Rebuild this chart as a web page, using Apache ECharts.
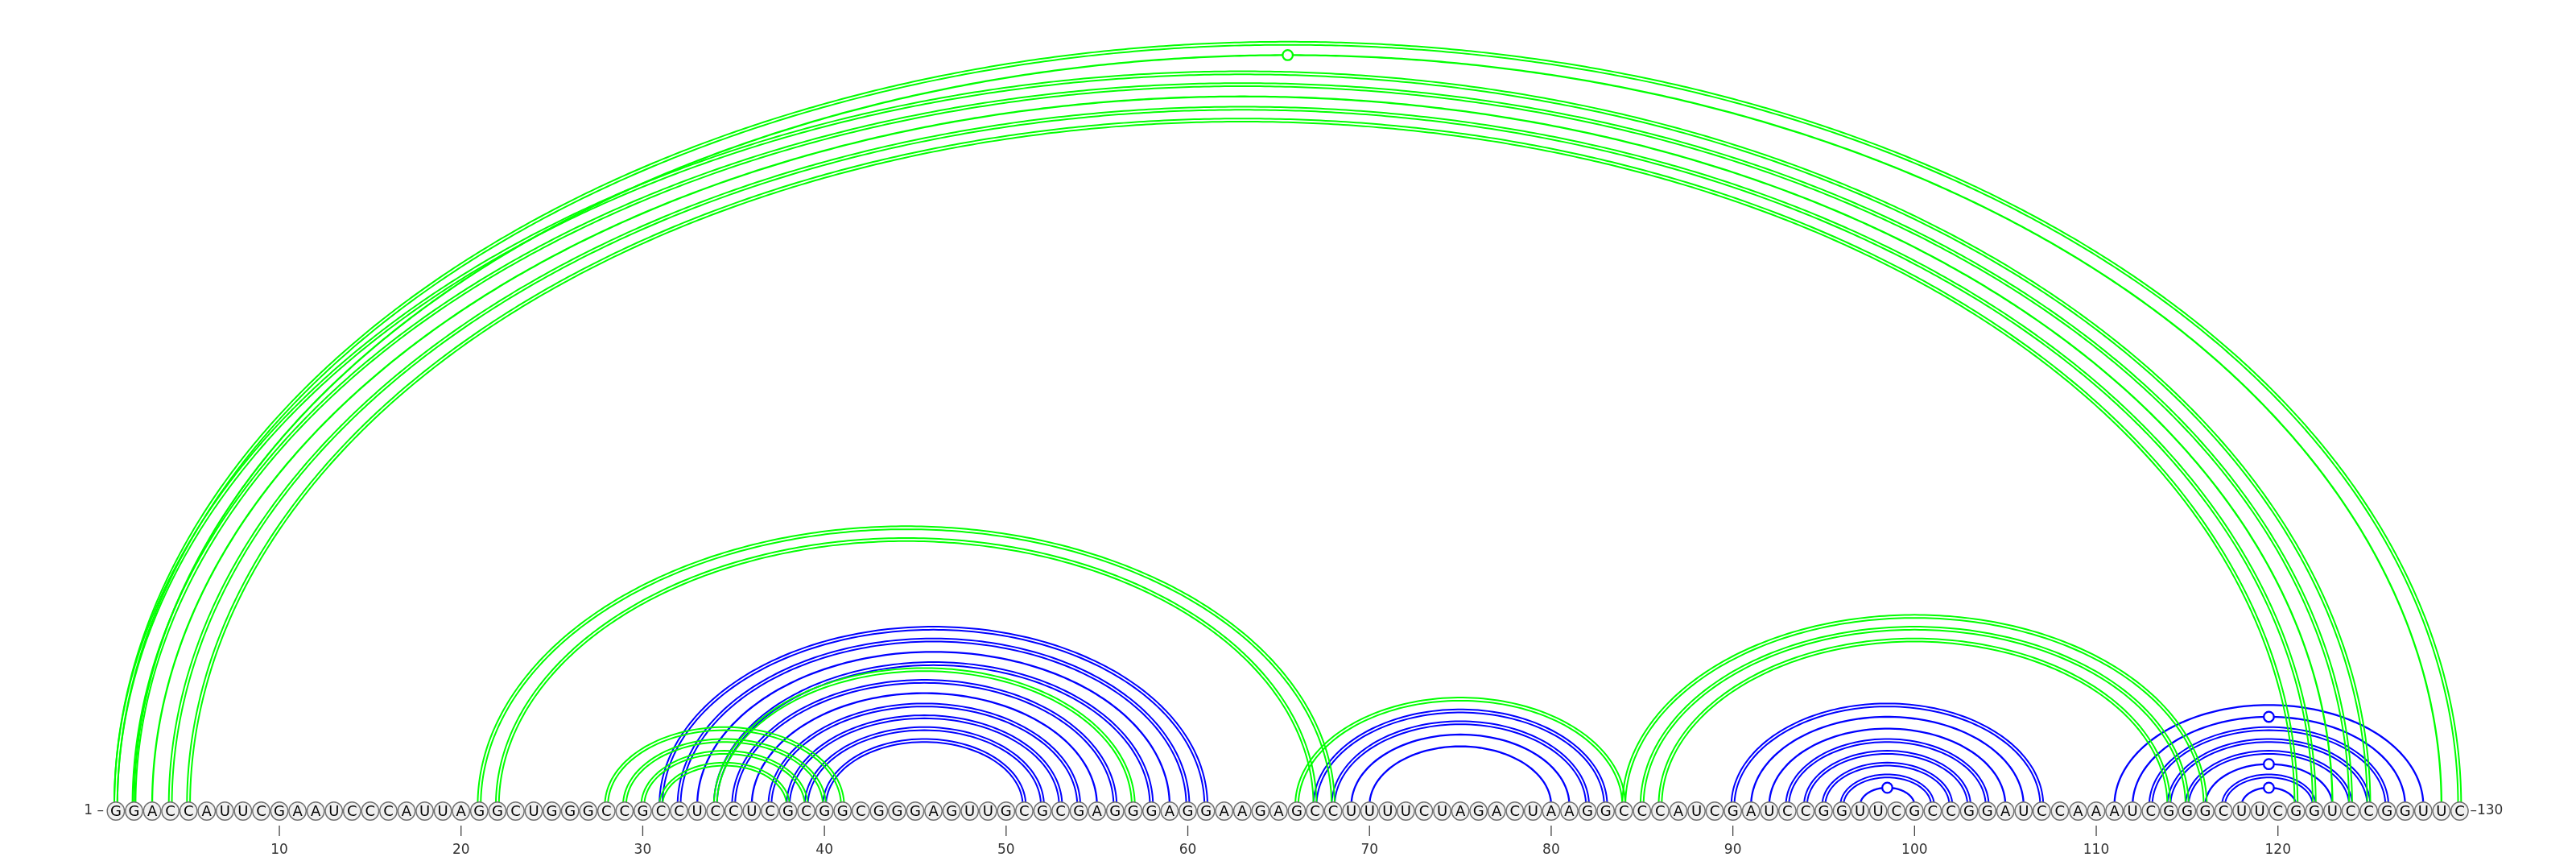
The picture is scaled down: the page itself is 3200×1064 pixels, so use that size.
<!DOCTYPE html>
<html>
<head>
<meta charset="utf-8">
<style>
  html, body { margin: 0; padding: 0; background: #fff; }
  #chart { width: 3200px; height: 1064px; }
</style>
<script src="https://cdn.jsdelivr.net/npm/echarts@6/dist/echarts.min.js"></script>
</head>
<body>
<div id="chart"></div>
<script>
// sequence, 1-based positions
var sequence = (
  "GGACCAUUCG" + "AAUCCCAUUA" + "GGCUGGGCCG" + "CCUCCUCGCG" + "GCGGGAGUUG" +
  "CGCGAGGGAG" + "GAAGAGCCUU" + "UUCUAGACUA" + "AGGCCCAUCG" + "AUCCGGUUCG" +
  "CCGGAUCCAA" + "AUCGGGCUUC" + "GGUCCGGUUC"
).split("");

// base pairs drawn in blue
var bluePairs = [
  [31, 61], [32, 60], [33, 59], [34, 58], [35, 56], [36, 55], [37, 54], [38, 53], [39, 52], [40, 51],
  [67, 83], [68, 82], [69, 81], [70, 80],
  [90, 107], [91, 106], [92, 105], [93, 104], [94, 103], [95, 102], [96, 101], [97, 100],
  [111, 128], [112, 127], [113, 126], [114, 125], [115, 124], [116, 123], [117, 122], [118, 121]
];

// base pairs drawn in green
var greenPairs = [
  [1, 130], [2, 129], [1, 125], [2, 124], [3, 123], [4, 122], [5, 121],
  [21, 68], [22, 67],
  [28, 41], [29, 40], [30, 39], [31, 38], [34, 57],
  [66, 84], [84, 116], [85, 115], [86, 114]
];

var tickValues = [10, 20, 30, 40, 50, 60, 70, 80, 90, 100, 110, 120];

var BLUE = "#0000ff";
var GREEN = "#00ff00";
var ARC_RATIO = 0.65;

// GC -> double line, AU -> single line, GU -> single line with a ring on top
function pairKind(i, j) {
  var s = sequence[i - 1] + sequence[j - 1];
  if (s === "GC" || s === "CG") return "GC";
  if (s === "GU" || s === "UG") return "GU";
  return "AU";
}

function ellipsePoints(cx, cy, rx, ry) {
  var n = Math.max(24, Math.round(rx / 2));
  var pts = [];
  for (var k = 0; k <= n; k++) {
    var t = Math.PI - (Math.PI * k) / n;
    pts.push([cx + rx * Math.cos(t), cy - ry * Math.sin(t)]);
  }
  return pts;
}

function arcRenderer(color) {
  return function (params, api) {
    var i = api.value(0), j = api.value(1);
    var p1 = api.coord([i, 0]);
    var p2 = api.coord([j, 0]);
    var cx = (p1[0] + p2[0]) / 2;
    var cy = p1[1];
    var rx = Math.abs(p2[0] - p1[0]) / 2;
    var ry = rx * ARC_RATIO;
    var kind = pairKind(i, j);
    var offsets = kind === "GC" ? [-1.9, 1.9] : [0];
    var children = offsets.map(function (d) {
      return {
        type: "polyline",
        shape: { points: ellipsePoints(cx, cy, rx + d, ry + d) },
        style: { stroke: color, lineWidth: kind === "GC" ? 2 : 2.3, fill: "none" },
        silent: true
      };
    });
    if (kind === "GU") {
      children.push({
        type: "circle",
        shape: { cx: cx, cy: cy - ry, r: 6.3 },
        style: { fill: "#fff", stroke: color, lineWidth: 2.3 },
        silent: true
      });
    }
    return { type: "group", children: children };
  };
}

function baseRenderer(params, api) {
  var pos = api.value(0);
  var p = api.coord([pos, 0]);
  var y = p[1] + 7;
  var children = [
    {
      type: "ellipse",
      shape: { cx: p[0], cy: y, rx: 10.7, ry: 11.3 },
      style: { fill: "#f0f0f0", stroke: "#707070", lineWidth: 1.4 }
    },
    {
      type: "text",
      style: {
        x: p[0], y: y + 1, text: sequence[pos - 1],
        align: "center", verticalAlign: "middle",
        font: "18px 'DejaVu Sans'", fill: "#000"
      }
    }
  ];
  if (pos === 1) {
    children.push({
      type: "text",
      style: {
        x: p[0] - 15, y: y, text: "1 \u2013", align: "right", verticalAlign: "middle",
        font: "17px 'DejaVu Sans'", fill: "#333"
      }
    });
  }
  if (pos === sequence.length) {
    children.push({
      type: "text",
      style: {
        x: p[0] + 13, y: y, text: "\u2013" + sequence.length, align: "left", verticalAlign: "middle",
        font: "17px 'DejaVu Sans'", fill: "#333"
      }
    });
  }
  return { type: "group", children: children };
}

// short vertical tick under every tenth base
function tickRenderer(params, api) {
  var p = api.coord([api.value(0), 0]);
  return {
    type: "line",
    shape: { x1: p[0], y1: p[1] + 25, x2: p[0], y2: p[1] + 38 },
    style: { stroke: "#444", lineWidth: 1.3 },
    silent: true
  };
}

var chart = echarts.init(document.getElementById("chart"), null, { renderer: "canvas" });

chart.setOption({
  animation: false,
  backgroundColor: "#fff",
  grid: { left: 121.33, right: 122, top: 20, bottom: 63 },
  xAxis: {
    type: "value",
    min: 0,
    max: 131,
    offset: 25,
    splitLine: { show: false },
    axisLine: { show: false },
    axisTick: { show: false },
    axisLabel: {
      show: true, margin: 22, customValues: tickValues,
      color: "#333", fontSize: 17, fontFamily: "DejaVu Sans"
    }
  },
  yAxis: { type: "value", min: 0, max: 1, show: false },
  series: [
    {
      type: "custom",
      renderItem: arcRenderer(BLUE),
      data: bluePairs,
      encode: { x: [0, 1] },
      clip: false,
      z: 2
    },
    {
      type: "custom",
      renderItem: arcRenderer(GREEN),
      data: greenPairs,
      encode: { x: [0, 1] },
      clip: false,
      z: 3
    },
    {
      type: "custom",
      renderItem: baseRenderer,
      data: sequence.map(function (s, k) { return [k + 1, 0]; }),
      encode: { x: 0, y: 1 },
      clip: false,
      z: 5
    },
    {
      type: "custom",
      renderItem: tickRenderer,
      data: tickValues.map(function (v) { return [v, 0]; }),
      encode: { x: 0, y: 1 },
      clip: false,
      z: 5
    }
  ]
});
</script>
</body>
</html>
